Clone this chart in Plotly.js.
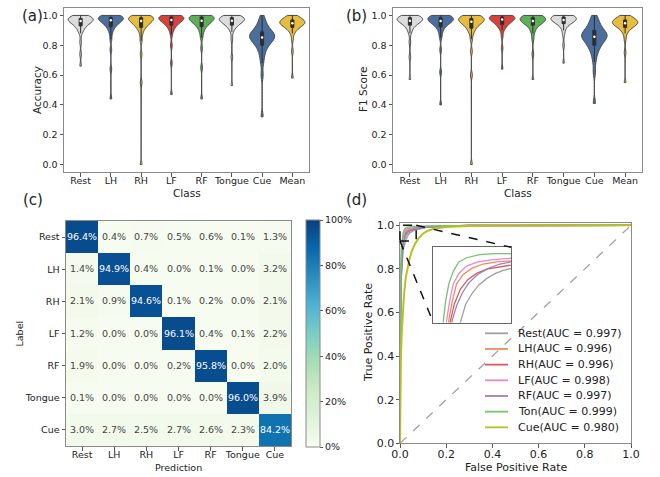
<!DOCTYPE html>
<html><head><meta charset="utf-8">
<script src="https://cdn.plot.ly/plotly-3.0.1.min.js"></script>
<style>html,body{margin:0;padding:0;background:#fff}#chart{width:660px;height:477px}</style>
</head><body><div id="chart"></div>
<script>
// ---------------- DATA ----------------
const classes = ['Rest','LH','RH','LF','RF','Tongue','Cue','Mean'];

const accRest   = [0.66,0.74,0.82,0.88,0.90,0.91,0.92,0.93,0.935,0.94,0.945,0.95,0.955,0.96,0.96,0.965,0.965,0.97,0.97,0.975,0.975,0.98,0.98,0.985,0.985,0.99,0.99,0.995,1.0,1.0];
const accLH     = [0.44,0.64,0.77,0.84,0.88,0.90,0.915,0.925,0.935,0.94,0.945,0.95,0.955,0.96,0.965,0.97,0.97,0.975,0.975,0.98,0.98,0.985,0.985,0.99,0.99,0.995,0.995,1.0,1.0,1.0];
const accRH     = [0.0,0.55,0.74,0.83,0.87,0.895,0.91,0.92,0.93,0.935,0.94,0.945,0.95,0.955,0.96,0.965,0.97,0.97,0.975,0.975,0.98,0.98,0.985,0.985,0.99,0.99,0.995,0.995,1.0,1.0];
const accLF     = [0.47,0.68,0.80,0.87,0.90,0.915,0.925,0.935,0.94,0.945,0.95,0.955,0.96,0.965,0.97,0.97,0.975,0.975,0.98,0.98,0.985,0.985,0.99,0.99,0.995,0.995,1.0,1.0,1.0,1.0];
const accRF     = [0.44,0.65,0.78,0.85,0.88,0.90,0.915,0.925,0.935,0.94,0.945,0.95,0.955,0.96,0.965,0.965,0.97,0.975,0.975,0.98,0.985,0.985,0.99,0.99,0.995,0.995,1.0,1.0,1.0,1.0];
const accTongue = [0.53,0.72,0.84,0.89,0.91,0.92,0.93,0.935,0.94,0.945,0.95,0.955,0.96,0.96,0.965,0.965,0.97,0.97,0.975,0.975,0.98,0.98,0.985,0.985,0.99,0.99,0.995,0.995,1.0,1.0];
const accCue    = [0.32,0.60,0.68,0.72,0.75,0.77,0.79,0.80,0.81,0.82,0.83,0.835,0.84,0.845,0.85,0.855,0.86,0.865,0.87,0.875,0.88,0.885,0.89,0.90,0.91,0.92,0.935,0.95,0.97,1.0];
const accMean   = [0.58,0.76,0.84,0.88,0.895,0.905,0.915,0.92,0.925,0.93,0.935,0.94,0.94,0.945,0.945,0.95,0.95,0.955,0.955,0.96,0.96,0.965,0.97,0.97,0.975,0.98,0.985,0.99,0.995,1.0];

// (b) per-subject F1 samples
const f1Rest   = [0.57,0.72,0.82,0.88,0.90,0.915,0.925,0.935,0.94,0.945,0.95,0.955,0.96,0.96,0.965,0.965,0.97,0.97,0.975,0.975,0.98,0.98,0.985,0.985,0.99,0.99,0.995,0.995,1.0,1.0];
const f1LH     = [0.40,0.62,0.77,0.85,0.88,0.90,0.915,0.925,0.935,0.94,0.945,0.95,0.955,0.96,0.96,0.965,0.965,0.97,0.975,0.975,0.98,0.98,0.985,0.99,0.99,0.995,0.995,1.0,1.0,1.0];
const f1RH     = [0.0,0.60,0.76,0.84,0.875,0.895,0.905,0.915,0.925,0.93,0.94,0.945,0.95,0.955,0.955,0.96,0.96,0.965,0.97,0.97,0.975,0.98,0.98,0.985,0.99,0.99,0.995,1.0,1.0,1.0];
const f1LF     = [0.64,0.78,0.86,0.90,0.915,0.925,0.935,0.94,0.945,0.95,0.955,0.96,0.965,0.97,0.97,0.975,0.975,0.98,0.98,0.985,0.985,0.99,0.99,0.995,0.995,1.0,1.0,1.0,1.0,1.0];
const f1RF     = [0.57,0.74,0.84,0.88,0.90,0.915,0.925,0.935,0.94,0.945,0.95,0.955,0.955,0.96,0.96,0.965,0.97,0.97,0.975,0.975,0.98,0.985,0.985,0.99,0.99,0.995,0.995,1.0,1.0,1.0];
const f1Tongue = [0.68,0.80,0.87,0.90,0.92,0.93,0.94,0.945,0.95,0.955,0.96,0.96,0.965,0.965,0.97,0.97,0.975,0.975,0.98,0.98,0.985,0.985,0.99,0.99,0.995,0.995,1.0,1.0,1.0,1.0];
const f1Cue    = [0.41,0.62,0.69,0.73,0.755,0.775,0.79,0.80,0.81,0.82,0.83,0.84,0.845,0.85,0.855,0.86,0.865,0.87,0.875,0.88,0.885,0.89,0.90,0.91,0.92,0.93,0.945,0.96,0.98,1.0];
const f1Mean   = [0.55,0.75,0.84,0.88,0.895,0.905,0.915,0.92,0.925,0.93,0.935,0.94,0.94,0.945,0.945,0.95,0.95,0.955,0.955,0.96,0.96,0.965,0.97,0.97,0.975,0.98,0.985,0.99,0.995,1.0];

// (c) confusion matrix (%)
const cmLabels = ['Rest','LH','RH','LF','RF','Tongue','Cue'];
const cmValues = [
  [96.4, 0.4, 0.7, 0.5, 0.6, 0.1, 1.3],
  [ 1.4,94.9, 0.4, 0.0, 0.1, 0.0, 3.2],
  [ 2.1, 0.9,94.6, 0.1, 0.2, 0.0, 2.1],
  [ 1.2, 0.0, 0.0,96.1, 0.4, 0.1, 2.2],
  [ 1.9, 0.0, 0.0, 0.2,95.8, 0.0, 2.0],
  [ 0.1, 0.0, 0.0, 0.0, 0.0,96.0, 3.9],
  [ 3.0, 2.7, 2.5, 2.7, 2.6, 2.3,84.2]
];
const cbTicks = [0,20,40,60,80,100];

// (d) ROC curves
const rocNames = ['Rest','LH','RH','LF','RF','Ton','Cue'];
const rocAUC   = [0.997,0.996,0.996,0.998,0.997,0.999,0.980];
const fprRest = [0,0.001,0.006,0.014,0.0245,0.029,0.035,0.041,0.048,0.056,0.063,0.07,0.12,0.3,1.0];
const tprRest = [0,0.50,0.78,0.89,0.930,0.945,0.956,0.964,0.970,0.975,0.978,0.980,0.992,0.999,1.0];
const fprLH   = [0,0.001,0.005,0.009,0.014,0.017,0.021,0.027,0.035,0.045,0.057,0.07,0.12,0.3,1.0];
const tprLH   = [0,0.45,0.76,0.88,0.930,0.948,0.965,0.974,0.980,0.984,0.986,0.987,0.994,0.999,1.0];
const fprRH   = [0,0.001,0.005,0.010,0.0155,0.019,0.0245,0.031,0.039,0.048,0.058,0.07,0.12,0.3,1.0];
const tprRH   = [0,0.45,0.75,0.88,0.930,0.946,0.960,0.969,0.975,0.979,0.981,0.983,0.992,0.999,1.0];
const fprLF   = [0,0.001,0.004,0.008,0.012,0.015,0.018,0.023,0.030,0.040,0.052,0.07,0.12,0.3,1.0];
const tprLF   = [0,0.50,0.78,0.89,0.930,0.950,0.965,0.975,0.982,0.986,0.988,0.9895,0.995,0.999,1.0];
const fprRF   = [0,0.001,0.005,0.011,0.017,0.021,0.026,0.032,0.040,0.050,0.060,0.07,0.12,0.3,1.0];
const tprRF   = [0,0.50,0.78,0.89,0.930,0.944,0.956,0.966,0.974,0.980,0.984,0.986,0.993,0.999,1.0];
const fprTon  = [0,0.001,0.003,0.006,0.009,0.011,0.014,0.018,0.023,0.030,0.042,0.055,0.07,0.12,0.3,1.0];
const tprTon  = [0,0.55,0.80,0.90,0.930,0.948,0.965,0.977,0.986,0.990,0.993,0.994,0.994,0.997,0.9995,1.0];
const fprCue  = [0,0.002,0.004,0.008,0.012,0.018,0.025,0.032,0.040,0.050,0.065,0.080,0.10,0.12,0.15,0.20,0.30,0.50,1.0];
const tprCue  = [0,0.25,0.40,0.52,0.60,0.69,0.76,0.80,0.84,0.88,0.915,0.94,0.962,0.975,0.985,0.992,0.997,0.999,1.0];
const chanceX = [0,1];
const chanceY = [0,1];
const insetRangeX = [0,0.07];
const insetRangeY = [0.928,1.0];

// ---------------- STYLE ----------------
const FONT = 'DejaVu Sans, sans-serif';
const W = 660, H = 477;
const px = v => v / W;
const py = v => 1 - v / H;
const violinColors = ['#dcdcdc','#4a6f9f','#e9bd3c','#d9413b','#5daf58','#dcdcdc','#4a6f9f','#e9bd3c'];
const rocColors = ['#a0a0a0','#ef8a5a','#dd5a5c','#e58ad0','#9a80c4','#72c667','#b9bf24'];

function median(a){const s=[...a].sort((p,q)=>p-q);const n=s.length;return n%2?s[(n-1)/2]:(s[n/2-1]+s[n/2])/2;}

const traces = [];
function addViolins(sets, xa, ya){
  sets.forEach((d,i)=>{
    traces.push({type:'violin', x0:classes[i], y:d, name:classes[i]+xa, xaxis:xa, yaxis:ya,
      fillcolor:violinColors[i], line:{color:'#4a4a4a',width:1}, opacity:1,
      width:0.83, spanmode:'hard', bandwidth:(classes[i]==='Cue'?0.03:0.02),
      points:false, box:{visible:true,width:0.12,fillcolor:'#2e2e2e',line:{color:'#2e2e2e',width:1}},
      meanline:{visible:false}, hoverinfo:'skip', showlegend:false});
  });
  traces.push({type:'scatter', mode:'markers', x:classes, y:sets.map(median), xaxis:xa, yaxis:ya,
    marker:{color:'#ffffff',size:2.5}, hoverinfo:'skip', showlegend:false});
}
addViolins([accRest,accLH,accRH,accLF,accRF,accTongue,accCue,accMean],'x','y');
addViolins([f1Rest,f1LH,f1RH,f1LF,f1RF,f1Tongue,f1Cue,f1Mean],'x2','y2');

// GnBu colorscale
const GnBu = [[0,'#f7fcf0'],[0.125,'#e0f3db'],[0.25,'#ccebc5'],[0.375,'#a8ddb5'],[0.5,'#7bccc4'],[0.625,'#4eb3d3'],[0.75,'#2b8cbe'],[0.875,'#0868ac'],[1,'#084081']];
traces.push({type:'heatmap', x:cmLabels, y:cmLabels, z:cmValues, xaxis:'x3', yaxis:'y3',
  zmin:0, zmax:100, colorscale:GnBu, texttemplate:'%{z:.1f}%', textfont:{family:FONT,size:9.5},
  hoverinfo:'skip', xgap:0, ygap:0,
  colorbar:{x:px(306), xanchor:'left', xpad:0, ypad:0, thickness:14, len:227/H, lenmode:'fraction',
    y:py(333.5), yanchor:'middle', outlinecolor:'#8a8a8a', outlinewidth:1,
    tickvals:cbTicks, ticktext:cbTicks.map(v=>v+'%'), ticks:'outside', ticklen:3, tickcolor:'#555',
    tickfont:{family:FONT,size:9.5,color:'#222'}}});

// ROC
traces.push({type:'scatter', mode:'lines', x:chanceX, y:chanceY, xaxis:'x4', yaxis:'y4',
  line:{color:'#a0a0a0',width:1.3,dash:'dash'}, hoverinfo:'skip', showlegend:false});
const rocF = [fprRest,fprLH,fprRH,fprLF,fprRF,fprTon,fprCue];
const rocT = [tprRest,tprLH,tprRH,tprLF,tprRF,tprTon,tprCue];
rocF.forEach((f,i)=>{
  traces.push({type:'scatter', mode:'lines', x:f, y:rocT[i], xaxis:'x4', yaxis:'y4',
    line:{color:rocColors[i],width:(rocNames[i]==='Cue'?2:1.5)}, hoverinfo:'skip', showlegend:false});
});
rocF.forEach((f,i)=>{
  if(rocNames[i]==='Cue') return;
  traces.push({type:'scatter', mode:'lines', x:f, y:rocT[i], xaxis:'x5', yaxis:'y5',
    line:{color:rocColors[i],width:1.3}, hoverinfo:'skip', showlegend:false});
});

// ---------------- LAYOUT ----------------
function axis(domain, anchor, extra){
  return Object.assign({domain, anchor, showline:true, mirror:true, linecolor:'#8a8a8a', linewidth:1,
    ticks:'outside', ticklen:3.5, tickcolor:'#555', tickwidth:1, showgrid:false, zeroline:false,
    tickfont:{family:FONT,size:9.5,color:'#222'}, fixedrange:true}, extra||{});
}
const vY = [py(172), py(8)];
const domC_x = [px(66), px(291)], domC_y = [py(446), py(221)];
const domD_x = [px(400), px(631)], domD_y = [py(443.3), py(222.7)];
const domI_x = [px(433.3), px(511)], domI_y = [py(322.5), py(247.3)];
const rangeDX = [0,1], rangeDY = [0,1.012];
const yt = [0,0.2,0.4,0.6,0.8,1.0];

const layout = {
  width:W, height:H, margin:{l:0,r:0,t:0,b:0}, paper_bgcolor:'#fff', plot_bgcolor:'#fff',
  showlegend:false, violinmode:'overlay', font:{family:FONT,color:'#222'},
  xaxis: axis([px(64),px(309)],'y',{type:'category',range:[-0.55,7.55],categoryarray:classes,ticklabelstandoff:-4}),
  yaxis: axis(vY,'x',{range:[-0.05,1.05],tickvals:yt,tickformat:'.1f'}),
  xaxis2: axis([px(393),px(642)],'y2',{type:'category',range:[-0.55,7.55],categoryarray:classes,ticklabelstandoff:-4}),
  yaxis2: axis(vY,'x2',{range:[-0.05,1.05],tickvals:yt,tickformat:'.1f'}),
  xaxis3: axis(domC_x,'y3',{type:'category',ticklabelstandoff:-4}),
  yaxis3: axis(domC_y,'x3',{type:'category',autorange:'reversed'}),
  xaxis4: axis(domD_x,'y4',{range:rangeDX,tickvals:yt,tickformat:'.1f',ticklabelstandoff:-3,tickfont:{family:FONT,size:11,color:'#222'}}),
  yaxis4: axis(domD_y,'x4',{range:rangeDY,tickvals:yt,tickformat:'.1f',ticklabelstandoff:-1,tickfont:{family:FONT,size:11,color:'#222'}}),
  xaxis5: axis(domI_x,'y5',{range:insetRangeX,ticks:'',showticklabels:false,linecolor:'#666'}),
  yaxis5: axis(domI_y,'x5',{range:insetRangeY,ticks:'',showticklabels:false,linecolor:'#666'}),
  annotations:[], shapes:[]
};

function ann(text,x,y,size,opts){
  layout.annotations.push(Object.assign({text, x, y, xref:'paper', yref:'paper', showarrow:false,
    xanchor:'center', yanchor:'middle', font:{family:FONT,size,color:'#222'}}, opts||{}));
}
// panel labels
ann('(a)', px(20), py(16), 15, {xanchor:'left'});
ann('(b)', px(343.5), py(16), 15, {xanchor:'left'});
ann('(c)', px(21), py(200), 15, {xanchor:'left'});
ann('(d)', px(343.5), py(200), 15, {xanchor:'left'});
// axis titles
ann('Accuracy', px(37), py(90), 10.5, {textangle:-90});
ann('Class', px(186.5), py(193), 10.5);
ann('F1 Score', px(363), py(90), 10.5, {textangle:-90});
ann('Class', px(517.5), py(193), 10.5);
ann('Label', px(19), py(333.5), 9.5, {textangle:-90});
ann('Prediction', px(178.5), py(467), 9.5);
ann('True Positive Rate', px(368), py(333), 11, {textangle:-90});
ann('False Positive Rate', px(515.5), py(467), 11);

// zoom rectangle + connectors (paper coords from main ROC axis mapping)
const mapX = v => domD_x[0] + (v-rangeDX[0])/(rangeDX[1]-rangeDX[0])*(domD_x[1]-domD_x[0]);
const mapY = v => domD_y[0] + (v-rangeDY[0])/(rangeDY[1]-rangeDY[0])*(domD_y[1]-domD_y[0]);
const dashLine = {color:'#111',width:1.5,dash:'dash'};
layout.shapes.push({type:'rect', xref:'paper', yref:'paper', x0:mapX(insetRangeX[0]), x1:mapX(insetRangeX[1]),
  y0:mapY(insetRangeY[0]), y1:mapY(insetRangeY[1]), line:dashLine});
layout.shapes.push({type:'line', xref:'paper', yref:'paper', x0:mapX(insetRangeX[1]), y0:mapY(insetRangeY[1]),
  x1:domI_x[1], y1:domI_y[1], line:dashLine});
layout.shapes.push({type:'line', xref:'paper', yref:'paper', x0:mapX(insetRangeX[0]), y0:mapY(insetRangeY[0]),
  x1:domI_x[0], y1:domI_y[0], line:dashLine});

// ROC legend
rocNames.forEach((n,i)=>{
  const yy = py(333.3 + i*15.67);
  layout.shapes.push({type:'line', xref:'paper', yref:'paper', x0:px(485), x1:px(508), y0:yy, y1:yy,
    line:{color:rocColors[i], width:1.8}});
  ann(n+'(AUC = '+rocAUC[i].toFixed(3)+')', px(516), yy, 11, {xanchor:'left'});
});

Plotly.newPlot('chart', traces, layout, {staticPlot:true, displayModeBar:false});
</script></body></html>
